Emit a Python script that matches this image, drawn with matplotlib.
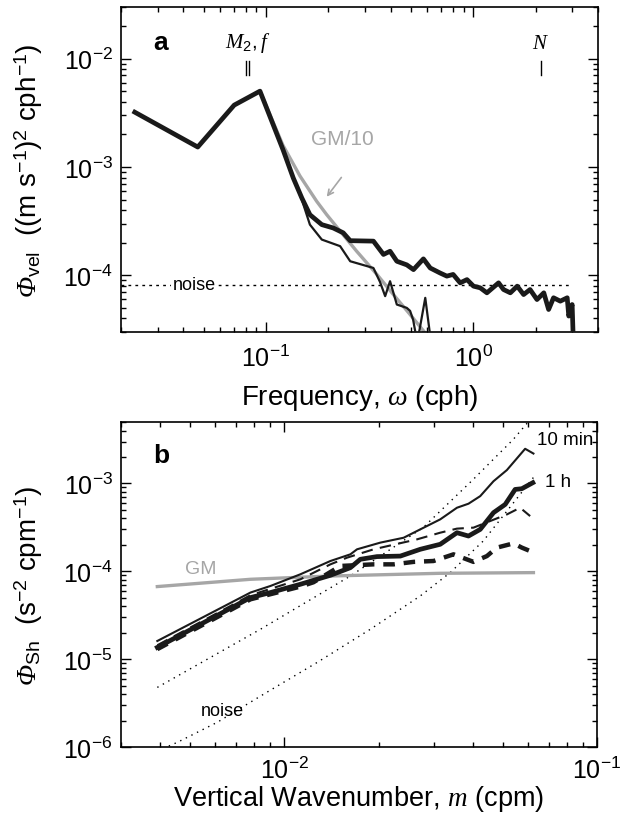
import numpy as np
import matplotlib
matplotlib.use("Agg")
import matplotlib.pyplot as plt
import matplotlib.transforms as mtransforms
from matplotlib.ticker import LogLocator, NullFormatter

plt.rcParams['font.family'] = ['Liberation Sans', 'DejaVu Sans']
plt.rcParams['mathtext.fontset'] = 'custom'
plt.rcParams['mathtext.rm'] = 'Liberation Sans'
plt.rcParams['mathtext.it'] = 'Liberation Serif:italic'
plt.rcParams['mathtext.sf'] = 'Liberation Serif:italic'   # used for the italic Phi
plt.rcParams['mathtext.bf'] = 'Liberation Sans:bold'

GRAY = "#a6a6a6"

# ---- panel a : velocity frequency spectrum ----
freq_thick = [0.0233, 0.0469, 0.0703, 0.0936, 0.121, 0.1355, 0.149, 0.163, 0.186,
              0.211, 0.236, 0.255, 0.33, 0.369, 0.397, 0.428, 0.478, 0.515, 0.575,
              0.62, 0.693, 0.746, 0.80, 0.865, 0.933, 1.003, 1.081, 1.164, 1.325,
              1.40, 1.51, 1.63, 1.75, 1.88, 2.03, 2.19, 2.31, 2.44, 2.63, 2.84,
              2.89, 3.00, 3.05]
vel_thick = [3.21e-3, 1.53e-3, 3.73e-3, 5.02e-3, 1.44e-3, 7.92e-4, 5.18e-4, 3.63e-4,
             2.94e-4, 2.74e-4, 2.47e-4, 2.09e-4, 2.07e-4, 1.56e-4, 1.67e-4, 1.35e-4,
             1.25e-4, 1.13e-4, 1.42e-4, 1.17e-4, 1.05e-4, 9.84e-5, 1.02e-4, 8.53e-5,
             9.14e-5, 7.95e-5, 7.67e-5, 6.90e-5, 8.53e-5, 7.40e-5, 6.90e-5, 7.95e-5,
             6.65e-5, 7.40e-5, 5.98e-5, 6.90e-5, 4.84e-5, 6.21e-5, 5.78e-5, 6.21e-5,
             4.21e-5, 5.38e-5, 2.0e-5]

freq_thin = [0.0233, 0.0469, 0.0703, 0.0936, 0.121, 0.1355, 0.149, 0.163, 0.186,
             0.228, 0.255, 0.33, 0.355, 0.376, 0.397, 0.428, 0.478, 0.496, 0.513,
             0.537, 0.587, 0.626]
vel_thin = [3.21e-3, 1.53e-3, 3.73e-3, 5.02e-3, 1.44e-3, 7.92e-4, 5.0e-4, 2.94e-4,
            2.14e-4, 1.86e-4, 1.35e-4, 1.17e-4, 8.7e-5, 6.43e-5, 8.83e-5, 5.38e-5,
            5.01e-5, 4.7e-5, 3.89e-5, 2.4e-5, 6.2e-5, 2.4e-5]

freq_gm = [0.0936, 0.1208, 0.146, 0.1757, 0.1965, 0.2277, 0.274, 0.343, 0.412,
           0.496, 0.575, 0.62]
vel_gm10 = [5.02e-3, 1.59e-3, 8.26e-4, 4.83e-4, 3.63e-4, 2.57e-4, 1.67e-4, 1.02e-4,
            6.65e-5, 4.35e-5, 3.08e-5, 2.6e-5]

noise_vel = 8.2e-5
noise_freq_range = [0.02, 3.0]

tidal_freqs = [0.0805, 0.0829]   # M2, f
buoy_freq = [2.12]               # N

# ---- panel b : shear wavenumber spectrum ----
m_10min = [0.00392, 0.007785, 0.009022, 0.011248, 0.01403, 0.01625, 0.01707,
           0.02026, 0.02406, 0.02719, 0.0315, 0.03563, 0.03879, 0.04229, 0.04664,
           0.05147, 0.05888, 0.06259]
sh_10min = [1.61e-5, 5.73e-5, 6.81e-5, 9.25e-5, 1.31e-4, 1.56e-4, 1.78e-4, 2.12e-4,
            2.41e-4, 3.00e-4, 3.90e-4, 5.29e-4, 5.88e-4, 7.17e-4, 1.06e-3, 1.42e-3,
            2.48e-3, 2.19e-3]

m_1h = [0.00392, 0.007785, 0.009022, 0.011248, 0.01403, 0.01625, 0.01749, 0.01978,
        0.02348, 0.02719, 0.0315, 0.03563, 0.03879, 0.04229, 0.04664, 0.05083,
        0.0547, 0.05746, 0.06232]
sh_1h = [1.36e-5, 5.02e-5, 5.73e-5, 7.12e-5, 9.01e-5, 1.10e-4, 1.37e-4, 1.47e-4,
         1.49e-4, 1.78e-4, 2.03e-4, 2.75e-4, 2.52e-4, 3.00e-4, 4.65e-4, 5.77e-4,
         8.55e-4, 8.71e-4, 1.02e-3]

m_10min_lp = [0.00392, 0.007785, 0.011248, 0.01403, 0.01586, 0.01929, 0.02655,
              0.0315, 0.03563, 0.04025, 0.05147, 0.05675, 0.06109]
sh_10min_lp = [1.44e-5, 5.34e-5, 8.11e-5, 1.20e-4, 1.43e-4, 1.78e-4, 2.31e-4,
               2.75e-4, 3.06e-4, 3.14e-4, 4.44e-4, 5.29e-4, 4.25e-4]

m_1h_lp = [0.00392, 0.007785, 0.011248, 0.01238, 0.0151, 0.01929, 0.02235, 0.02589,
           0.02999, 0.03474, 0.04025, 0.04442, 0.04783, 0.05404, 0.05746, 0.06109]
sh_1h_lp = [1.30e-5, 4.8e-5, 6.7e-5, 7.5e-5, 1.15e-4, 1.20e-4, 1.20e-4, 1.28e-4,
            1.31e-4, 1.56e-4, 1.28e-4, 1.49e-4, 1.86e-4, 2.08e-4, 1.86e-4, 1.70e-4]

m_gm = [0.00392, 0.007785, 0.01403, 0.0315, 0.06259]
sh_gm = [6.70e-5, 8.11e-5, 8.84e-5, 9.49e-5, 9.66e-5]

m_noise_hi = [0.00392, 0.008381, 0.01625, 0.02781, 0.04016, 0.05391, 0.06109]
sh_noise_hi = [4.77e-6, 2.19e-5, 8.84e-5, 3.16e-4, 1.11e-3, 3.16e-3, 5.33e-3]

m_noise_lo = [0.00392, 0.004542, 0.006095, 0.008587, 0.01272, 0.01883, 0.02719,
              0.03391, 0.04323, 0.05147, 0.06259]
sh_noise_lo = [9.0e-7, 1.13e-6, 1.91e-6, 4.00e-6, 9.17e-6, 2.19e-5, 5.24e-5,
               9.66e-5, 2.21e-4, 4.84e-4, 1.17e-3]

# 1. figure
fig = plt.figure(figsize=(6.28, 8.2), dpi=100)
ax_a = fig.add_axes([0.1927, 0.5939, 0.7596, 0.3963])
ax_b = fig.add_axes([0.1927, 0.0878, 0.758, 0.3963])

for ax in (ax_a, ax_b):
    ax.set_xscale('log')
    ax.set_yscale('log')
    ax.tick_params(which='both', direction='in', top=True, right=True,
                   labelsize=18, width=1)
    ax.tick_params(axis='y', pad=6)
    ax.tick_params(which='major', length=7)
    ax.tick_params(which='minor', length=3.5)
    ax.yaxis.set_minor_locator(LogLocator(base=10, subs=np.arange(2, 10)))
    ax.xaxis.set_minor_locator(LogLocator(base=10, subs=np.arange(2, 10)))
    ax.xaxis.set_minor_formatter(NullFormatter())
    ax.yaxis.set_minor_formatter(NullFormatter())
    for s in ax.spines.values():
        s.set_linewidth(1.2)
ax_a.tick_params(axis='x', pad=9)
ax_b.tick_params(axis='x', pad=7)

# 2. panel a
ax_a.plot(freq_gm, vel_gm10, color=GRAY, lw=2.4, zorder=2)
ax_a.plot(freq_thin, vel_thin, color='#1a1a1a', lw=1.6, zorder=3)
ax_a.plot(freq_thick, vel_thick, color='#1a1a1a', lw=3.4, zorder=4)
ax_a.plot(noise_freq_range, [noise_vel, noise_vel], color='k', lw=1,
          linestyle=(0, (2, 3)), zorder=1)
ax_a.text(0.0450, noise_vel, 'noise', fontsize=13, ha='center', va='center',
          bbox=dict(facecolor='white', edgecolor='none', pad=1), zorder=5)
ax_a.text(0.2329, 1.85e-3, 'GM/10', fontsize=15, color=GRAY, ha='center', va='center')
ax_a.annotate('', xy=(0.1928, 5.07e-4), xytext=(0.2355, 8.4e-4),
              arrowprops=dict(arrowstyle='->', color=GRAY, lw=1.2))

trans = mtransforms.blended_transform_factory(ax_a.transData, ax_a.transAxes)
for fr in tidal_freqs + buoy_freq:
    ax_a.plot([fr, fr], [0.79, 0.835], color='k', lw=1, transform=trans)
ax_a.text(np.mean(tidal_freqs), 0.892, r'$\mathit{M_2, f}$', fontsize=15,
          ha='center', va='center', transform=trans)
ax_a.text(buoy_freq[0], 0.892, r'$\mathit{N}$', fontsize=15,
          ha='center', va='center', transform=trans)
ax_a.text(0.082, 0.892, 'a', fontsize=19, fontweight='bold', ha='center',
          va='center', transform=ax_a.transAxes)

ax_a.set_xlim(0.02, 4)
ax_a.set_ylim(3e-5, 3e-2)
ax_a.set_xlabel(r'Frequency, $\mathit{\omega}$ (cph)', fontsize=20, labelpad=8)
ax_a.set_ylabel(r'$\mathsf{\Phi}_{\mathrm{vel}}$  ((m s$^{-1}$)$^{2}$ cph$^{-1}$)', fontsize=20)
ax_a.yaxis.set_label_coords(-0.16, 0.5)

# 3. panel b
ax_b.plot(m_gm, sh_gm, color=GRAY, lw=2.4, zorder=2)
ax_b.plot(m_noise_hi, sh_noise_hi, color='k', lw=1, linestyle=(0, (1, 3.5)), zorder=1)
ax_b.plot(m_noise_lo, sh_noise_lo, color='k', lw=1, linestyle=(0, (1, 3.5)), zorder=1)
ax_b.plot(m_10min_lp, sh_10min_lp, color='#1a1a1a', lw=1.5, linestyle=(0, (5.5, 3.5)), zorder=3)
ax_b.plot(m_1h_lp, sh_1h_lp, color='#1a1a1a', lw=3.2, linestyle=(0, (2.6, 2)), zorder=3)
ax_b.plot(m_10min, sh_10min, color='#1a1a1a', lw=1.5, zorder=4)
ax_b.plot(m_1h, sh_1h, color='#1a1a1a', lw=3.4, zorder=4)

ax_b.text(0.00539, 1.08e-4, 'GM', fontsize=14, color=GRAY, ha='center', va='center')
ax_b.text(0.0643, 3.16e-3, '10 min', fontsize=13.5, ha='left', va='center')
ax_b.text(0.0682, 1.05e-3, '1 h', fontsize=13.5, ha='left', va='center')
ax_b.text(0.00634, 2.63e-6, 'noise', fontsize=13, ha='center', va='center')
ax_b.text(0.085, 0.90, 'b', fontsize=19, fontweight='bold', ha='center',
          va='center', transform=ax_b.transAxes)

ax_b.set_xlim(0.003, 0.1)
ax_b.set_ylim(1e-6, 5e-3)
ax_b.set_xlabel(r'Vertical Wavenumber, $\mathit{m}$ (cpm)', fontsize=19.5, labelpad=0)
ax_b.set_ylabel(r'$\mathsf{\Phi}_{\mathrm{Sh}}$  (s$^{-2}$ cpm$^{-1}$)', fontsize=20)
ax_b.yaxis.set_label_coords(-0.16, 0.5)

plt.savefig("out.png", dpi=100)
plt.close()
